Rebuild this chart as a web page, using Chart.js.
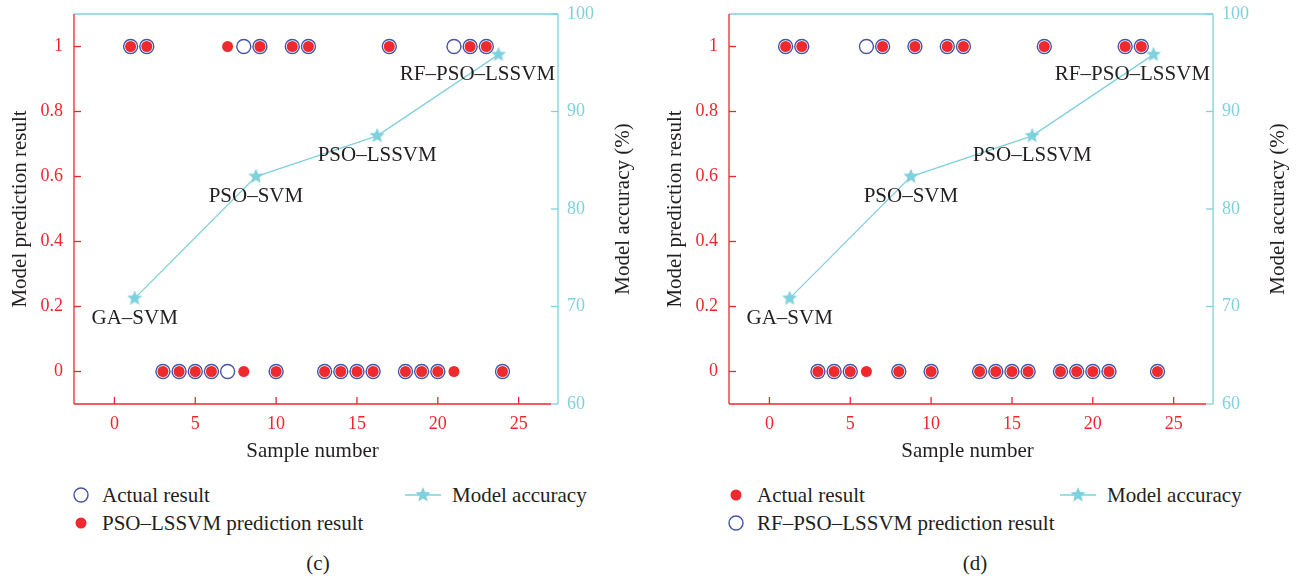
<!DOCTYPE html>
<html lang="en">
<head>
<meta charset="UTF-8">
<title>Model prediction results</title>
<script src="https://cdn.jsdelivr.net/npm/chart.js"></script>
<style>
  body { margin: 0; background: #fff; font-family: "Liberation Serif", "DejaVu Serif", serif; color: #231f20; }
  .panel { position: absolute; top: 0; width: 643px; height: 576px; }
  .panel canvas { position: absolute; left: 0; top: 0; }
  .item { position: absolute; height: 24px; font-size: 21px; line-height: 24px; display: flex; align-items: center; white-space: nowrap; }
  .item svg { flex: none; }
  .caption { position: absolute; top: 551px; width: 60px; margin-left: -30px; text-align: center; font-size: 21px; line-height: 24px; }
</style>
</head>
<body>

<div class="panel" style="left:0">
  <canvas id="chartC" width="643" height="470"></canvas>
  <div class="item" style="left:73px; top:483px">
    <svg width="16" height="16" style="margin-right:13px"><circle cx="8" cy="8" r="7" fill="none" stroke="#4554a6" stroke-width="1.4"/></svg>Actual result
  </div>
  <div class="item" style="left:73px; top:511px">
    <svg width="16" height="16" style="margin-right:13px"><circle cx="8" cy="8" r="5.5" fill="#ee2a2e"/></svg>PSO–LSSVM prediction result
  </div>
  <div class="item" style="left:405px; top:483px">
    <svg width="36" height="18" style="margin-right:11px"><line x1="0" y1="9" x2="36" y2="9" stroke="#7fd1dd" stroke-width="1.4"/><polygon fill="#7fd1dd"/></svg>Model accuracy
  </div>
  <div class="caption" style="left:318px">(c)</div>
</div>

<div class="panel" style="left:655px">
  <canvas id="chartD" width="643" height="470"></canvas>
  <div class="item" style="left:73px; top:483px">
    <svg width="16" height="16" style="margin-right:13px"><circle cx="8" cy="8" r="5.5" fill="#ee2a2e"/></svg>Actual result
  </div>
  <div class="item" style="left:73px; top:511px">
    <svg width="16" height="16" style="margin-right:13px"><circle cx="8" cy="8" r="7" fill="none" stroke="#4554a6" stroke-width="1.4"/></svg>RF–PSO–LSSVM prediction result
  </div>
  <div class="item" style="left:405px; top:483px">
    <svg width="36" height="18" style="margin-right:11px"><line x1="0" y1="9" x2="36" y2="9" stroke="#7fd1dd" stroke-width="1.4"/><polygon fill="#7fd1dd"/></svg>Model accuracy
  </div>
  <div class="caption" style="left:320px">(d)</div>
</div>

<script>
// sample numbers 1..24
const samples = [1, 2, 3, 4, 5, 6, 7, 8, 9, 10, 11, 12, 13, 14, 15, 16, 17, 18, 19, 20, 21, 22, 23, 24];

// panel (c): actual vs PSO-LSSVM prediction
const actualC = [1, 1, 0, 0, 0, 0, 0, 1, 1, 0, 1, 1, 0, 0, 0, 0, 1, 0, 0, 0, 1, 1, 1, 0];
const psoLssvmPred = [1, 1, 0, 0, 0, 0, 1, 0, 1, 0, 1, 1, 0, 0, 0, 0, 1, 0, 0, 0, 0, 1, 1, 0];

// panel (d): actual vs RF-PSO-LSSVM prediction
const actualD = [1, 1, 0, 0, 0, 0, 1, 0, 1, 0, 1, 1, 0, 0, 0, 0, 1, 0, 0, 0, 0, 1, 1, 0];
const rfPsoLssvmPred = [1, 1, 0, 0, 0, 1, 1, 0, 1, 0, 1, 1, 0, 0, 0, 0, 1, 0, 0, 0, 0, 1, 1, 0];

// accuracy of each model (right axis, %)
const modelNames = ['GA–SVM', 'PSO–SVM', 'PSO–LSSVM', 'RF–PSO–LSSVM'];
const modelX = [1.25, 8.75, 16.25, 23.75];
const modelAcc = [70.83, 83.33, 87.5, 95.83];

const xTicks = [0, 5, 10, 15, 20, 25];
const yTicks = [0, 0.2, 0.4, 0.6, 0.8, 1];
const y2Ticks = [60, 70, 80, 90, 100];

const RED = '#ee2a2e';
const AXIS_RED = '#f0262c';
const BLUE = '#4554a6';
const CYAN = '#7fd1dd';
const INK = '#231f20';
const FONT = '"Liberation Serif", "DejaVu Serif", serif';

function starPoints(cx, cy, R, r) {
  const pts = [];
  for (let i = 0; i < 10; i++) {
    const a = -Math.PI / 2 + i * Math.PI / 5;
    const rad = i % 2 ? r : R;
    pts.push([cx + rad * Math.cos(a), cy + rad * Math.sin(a)]);
  }
  return pts;
}

// filled five-point star used as point style
function makeStar(R, color) {
  const c = document.createElement('canvas');
  c.width = c.height = Math.ceil(R * 2 + 2);
  const g = c.getContext('2d');
  g.fillStyle = color;
  g.beginPath();
  starPoints(c.width / 2, c.height / 2, R, R * 0.45).forEach(([x, y], i) => i ? g.lineTo(x, y) : g.moveTo(x, y));
  g.closePath();
  g.fill();
  return c;
}
const star = makeStar(8, CYAN);

document.querySelectorAll('svg polygon').forEach(p => {
  p.setAttribute('points', starPoints(18, 9, 8, 3.6).map(q => q.join(',')).join(' '));
});

// axis lines with inward ticks; right axis sits a few px outside the plot
const frame = {
  id: 'frame',
  afterDraw(chart, args, o) {
    const { ctx, chartArea: a, scales } = chart;
    const t = o.tick, rx = a.right + o.gap;
    const seg = (x1, y1, x2, y2) => { ctx.beginPath(); ctx.moveTo(x1, y1); ctx.lineTo(x2, y2); ctx.stroke(); };
    ctx.save();
    ctx.lineWidth = 1.3;
    ctx.strokeStyle = CYAN;
    seg(a.left, a.top, rx, a.top);
    seg(rx, a.top, rx, a.bottom);
    scales.y2.ticks.forEach(k => { const y = scales.y2.getPixelForValue(k.value); seg(rx - t, y, rx, y); });
    ctx.strokeStyle = AXIS_RED;
    seg(a.left, a.top, a.left, a.bottom);
    seg(a.left, a.bottom, a.right, a.bottom);
    scales.y.ticks.forEach(k => { const y = scales.y.getPixelForValue(k.value); seg(a.left, y, a.left + t, y); });
    scales.x.ticks.forEach(k => { const x = scales.x.getPixelForValue(k.value); seg(x, a.bottom, x, a.bottom - t); });

    // right-hand axis title, reading bottom to top
    ctx.save();
    ctx.translate(chart.width - o.titleInset, (a.top + a.bottom) / 2);
    ctx.rotate(-Math.PI / 2);
    ctx.font = '21px ' + FONT;
    ctx.fillStyle = INK;
    ctx.textAlign = 'center';
    ctx.textBaseline = 'middle';
    ctx.fillText(o.rightTitle, 0, 0);
    ctx.restore();
    ctx.restore();
  }
};

// model names under the accuracy stars
const modelLabels = {
  id: 'modelLabels',
  afterDatasetsDraw(chart, args, o) {
    const meta = chart.getDatasetMeta(0);
    const { ctx } = chart;
    ctx.save();
    ctx.font = '21px ' + FONT;
    ctx.fillStyle = INK;
    ctx.textAlign = 'center';
    ctx.textBaseline = 'middle';
    meta.data.forEach((pt, i) => ctx.fillText(modelNames[i], pt.x + o.dx[i], pt.y + o.dy));
    ctx.restore();
  }
};

function points(values) {
  return samples.map((s, i) => ({ x: s, y: values[i] }));
}

const noPad = s => { s.paddingTop = 0; s.paddingBottom = 0; };

function makePanel(id, openValues, openLabel, redValues, redLabel) {
  return new Chart(document.getElementById(id), {
    type: 'scatter',
    data: {
      datasets: [{
        type: 'line',
        label: 'Model accuracy',
        data: modelX.map((x, i) => ({ x: x, y: modelAcc[i] })),
        yAxisID: 'y2',
        showLine: true,
        borderColor: CYAN,
        borderWidth: 1.3,
        pointStyle: star,
        order: 0
      }, {
        label: redLabel,
        data: points(redValues),
        yAxisID: 'y',
        pointRadius: 5.5,
        pointBackgroundColor: RED,
        pointBorderWidth: 0,
        order: 1
      }, {
        label: openLabel,
        data: points(openValues),
        yAxisID: 'y',
        pointRadius: 7,
        pointBackgroundColor: 'rgba(0,0,0,0)',
        pointBorderColor: BLUE,
        pointBorderWidth: 1.4,
        order: 2
      }]
    },
    options: {
      responsive: false,
      devicePixelRatio: 1,
      animation: false,
      layout: { padding: { top: 14 } },
      plugins: {
        legend: { display: false },
        tooltip: { enabled: false },
        frame: { tick: 7, gap: 7, titleInset: 20, rightTitle: 'Model accuracy (%)' },
        modelLabels: { dx: [0, 0, 0, -21], dy: 20 }
      },
      scales: {
        x: {
          type: 'linear',
          position: 'bottom',
          min: -2.5,
          max: 27,
          afterBuildTicks: s => { s.ticks = xTicks.map(v => ({ value: v })); },
          afterFit: s => { s.height = 66; },
          grid: { display: false, drawTicks: false },
          border: { display: false },
          ticks: { color: AXIS_RED, font: { family: FONT, size: 18 }, padding: 9, callback: v => String(v) },
          title: { display: true, text: 'Sample number', color: INK, font: { family: FONT, size: 21 }, padding: { top: 0, bottom: 6 } }
        },
        y: {
          type: 'linear',
          position: 'left',
          min: -0.1,
          max: 1.1,
          afterBuildTicks: s => { s.ticks = yTicks.map(v => ({ value: v })); },
          afterFit: s => { s.width = 74; noPad(s); },
          grid: { display: false, drawTicks: false },
          border: { display: false },
          ticks: { color: AXIS_RED, font: { family: FONT, size: 18 }, padding: 11, callback: v => String(v) },
          title: { display: true, text: 'Model prediction result', color: INK, font: { family: FONT, size: 21 }, padding: { top: 8, bottom: 0 } }
        },
        y2: {
          type: 'linear',
          position: 'right',
          min: 60,
          max: 100,
          afterBuildTicks: s => { s.ticks = y2Ticks.map(v => ({ value: v })); },
          afterFit: s => { s.width = 92; noPad(s); },
          grid: { display: false, drawTicks: false },
          border: { display: false },
          ticks: { color: CYAN, font: { family: FONT, size: 18 }, padding: 16, callback: v => String(v) }
        }
      }
    },
    plugins: [frame, modelLabels]
  });
}

makePanel('chartC', actualC, 'Actual result', psoLssvmPred, 'PSO–LSSVM prediction result');
makePanel('chartD', rfPsoLssvmPred, 'RF–PSO–LSSVM prediction result', actualD, 'Actual result');
</script>
</body>
</html>
